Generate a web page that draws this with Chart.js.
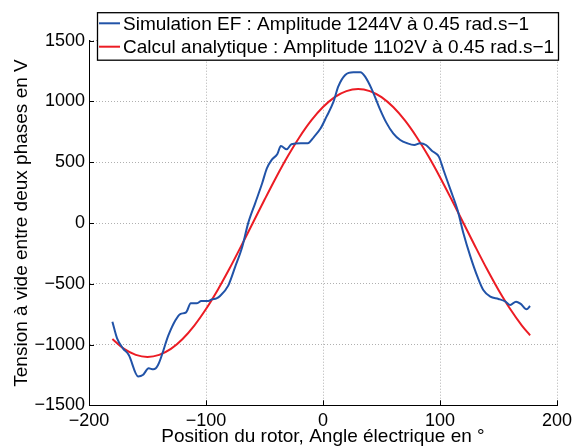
<!DOCTYPE html>
<html><head><meta charset="utf-8">
<script src="https://cdn.jsdelivr.net/npm/chart.js@4"></script>
<style>html,body{margin:0;padding:0;background:#fff}#wrap{width:572px;height:446px;position:relative}</style>
</head><body><div id="wrap"><canvas id="c"></canvas></div>
<script>
const simX = [-180,-176,-171,-166,-158,-154,-149,-145,-141,-132,-126,-122,-117,-113,-108,-104,-98,-95,-91,-88,-81,-75,-69,-64,-58,-52,-48,-44,-39,-36,-31,-27,-19,-13,-8,-2,3,9,13,19,26,32,36,42,48,54,60,66,72,78,83,88,93,99,103,109,115,120,126,132,137,143,150,156,160,165,169,174,177];
const simY = [-812,-949,-1031,-1086,-1262,-1251,-1196,-1204,-1168,-921,-798,-749,-735,-661,-661,-642,-642,-628,-620,-600,-515,-359,-195,-3,162,327,450,518,568,634,606,648,656,656,705,779,875,998,1122,1218,1240,1240,1204,1094,952,828,738,683,656,642,656,642,595,546,436,272,107,-85,-277,-442,-551,-606,-625,-647,-675,-647,-666,-710,-683];
const anaX = [-180,-170,-160,-150,-140,-130,-120,-110,-100,-90,-80,-70,-60,-50,-40,-30,-20,-10,0,10,20,30,40,50,60,70,80,90,100,110,120,130,140,150,160,170,177];
const anaY = [-954,-1036,-1085,-1102,-1085,-1036,-954,-844,-708,-551,-377,-191,0,191,377,551,708,844,954,1036,1085,1102,1085,1036,954,844,708,551,377,191,0,-191,-377,-551,-708,-844,-924];
const xTicks = [-200,-100,0,100,200];
const yTicks = [-1500,-1000,-500,0,500,1000,1500];
const seriesLabels = ['Simulation EF : Amplitude 1244V \u00e0 0.45 rad.s\u22121', 'Calcul analytique : Amplitude 1102V \u00e0 0.45 rad.s\u22121'];
const seriesColors = ['#2153a8', '#ec1c24'];
const xTitle = 'Position du rotor, Angle \u00e9lectrique en \u00b0';
const yTitle = 'Tension \u00e0 vide entre deux phases en V';

const FONT = '"Liberation Sans", Arial, Helvetica, sans-serif';
const fmt = v => String(v).replace('-', '\u2212');

const inwardTicks = {
  id: 'inwardTicks',
  afterDraw(chart) {
    const {ctx, chartArea: a, scales: {x, y}} = chart;
    ctx.save();
    ctx.strokeStyle = '#000';
    ctx.lineWidth = 1;
    ctx.beginPath();
    xTicks.forEach(v => { const px = Math.round(x.getPixelForValue(v)) + 0.5; ctx.moveTo(px, a.bottom); ctx.lineTo(px, a.bottom - 5); });
    yTicks.forEach(v => { const py = Math.round(y.getPixelForValue(v)) + 0.5; ctx.moveTo(a.left, py); ctx.lineTo(a.left + 5, py); });
    ctx.stroke();
    ctx.restore();
  }
};

const boxLegend = {
  id: 'boxLegend',
  afterDraw(chart) {
    const {ctx, chartArea: a} = chart;
    const left = a.left + 8.5, top = a.top - 28, right = a.right + 1.5, bottom = a.top + 19.5;
    ctx.save();
    ctx.fillStyle = '#fff';
    ctx.fillRect(left, top, right - left, bottom - top);
    ctx.strokeStyle = '#000';
    ctx.lineWidth = 1.3;
    ctx.strokeRect(left, top, right - left, bottom - top);
    ctx.font = '19px ' + FONT;
    ctx.textBaseline = 'middle';
    ctx.fillStyle = '#000';
    chart.data.datasets.forEach((ds, i) => {
      const cy = top + 10.6 + i * 23.4;
      ctx.strokeStyle = ds.borderColor;
      ctx.lineWidth = 2;
      ctx.beginPath(); ctx.moveTo(left + 1.5, cy); ctx.lineTo(left + 22.5, cy); ctx.stroke();
      ctx.fillText(ds.label, left + 25.5, cy + 1);
    });
    ctx.restore();
  }
};

new Chart(document.getElementById('c'), {
  type: 'line',
  data: {
    datasets: [
      { label: seriesLabels[0], data: simX.map((v, i) => ({x: v, y: simY[i]})), borderColor: seriesColors[0], borderWidth: 2, pointRadius: 0, cubicInterpolationMode: 'monotone', fill: false },
      { label: seriesLabels[1], data: anaX.map((v, i) => ({x: v, y: anaY[i]})), borderColor: seriesColors[1], borderWidth: 2, pointRadius: 0, cubicInterpolationMode: 'monotone', fill: false }
    ]
  },
  options: {
    responsive: true, maintainAspectRatio: false, animation: false, devicePixelRatio: 1,
    layout: { padding: { top: 40.7, right: 15, bottom: 0, left: 0 } },
    plugins: { legend: { display: false }, tooltip: { enabled: false } },
    scales: {
      x: {
        type: 'linear', position: 'bottom', min: -200, max: 200,
        afterBuildTicks: s => { s.ticks = xTicks.map(v => ({value: v})); },
        afterFit: s => { s.height = 40.7; s.paddingLeft = 0; s.paddingRight = 0; },
        ticks: { padding: 5, color: '#000', font: { family: FONT, size: 18 }, callback: fmt, maxRotation: 0 },
        grid: { color: '#b0b0b0', lineWidth: 1, drawTicks: false },
        border: { display: true, color: '#000', width: 1, dash: [1, 2] },
        title: { display: true, text: xTitle, color: '#000', font: { family: FONT, size: 19, lineHeight: 1 }, padding: 0 }
      },
      y: {
        type: 'linear', position: 'left', min: -1500, max: 1500,
        afterBuildTicks: s => { s.ticks = yTicks.map(v => ({value: v})); },
        afterFit: s => { s.width = 89; },
        ticks: { padding: 4, color: '#000', font: { family: FONT, size: 18 }, callback: fmt },
        grid: { color: '#b0b0b0', lineWidth: 1, drawTicks: false },
        border: { display: true, color: '#000', width: 1, dash: [1, 2] },
        title: { display: true, text: yTitle, color: '#000', font: { family: FONT, size: 19, lineHeight: 1 }, padding: { top: 12.2, bottom: 0 } }
      }
    }
  },
  plugins: [inwardTicks, boxLegend]
});
</script></body></html>
